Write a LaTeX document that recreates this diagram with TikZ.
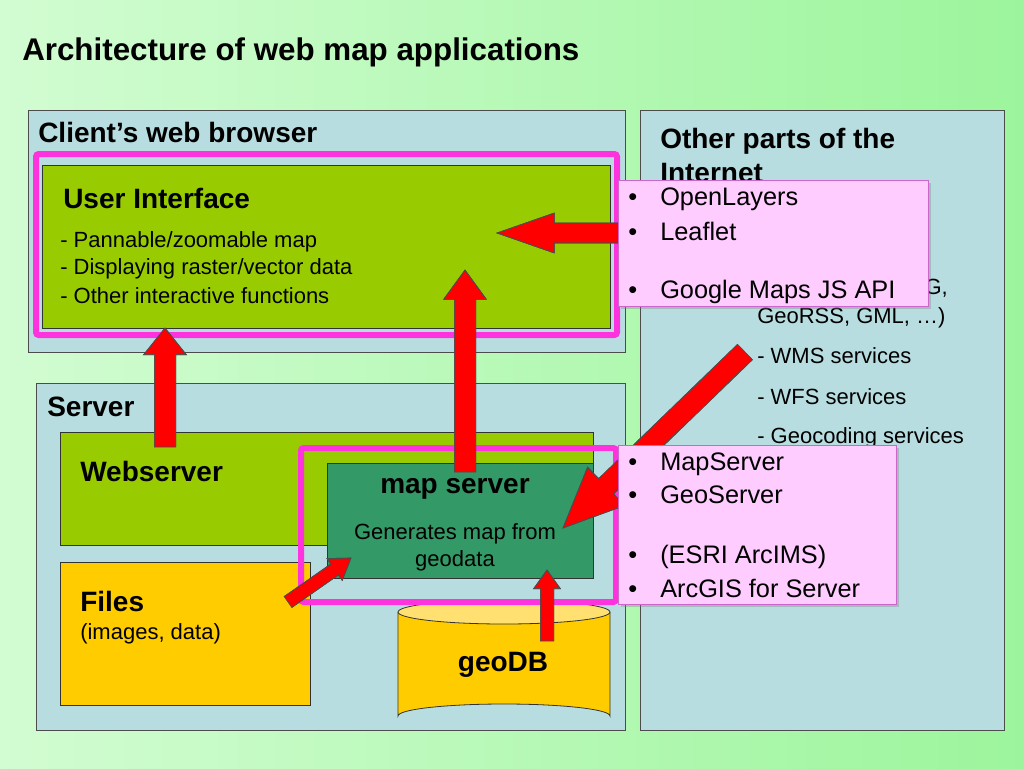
\documentclass[tikz,border=0pt]{standalone}
\usepackage{fontspec}
\setmainfont{Liberation Sans}
\usetikzlibrary{calc,shadows}
\definecolor{bgA}{HTML}{D2FCD2}
\definecolor{bgB}{HTML}{9CF59C}
\definecolor{panel}{HTML}{B8DDE0}
\definecolor{lime}{HTML}{99CC00}
\definecolor{msg}{HTML}{339966}
\definecolor{gold}{HTML}{FFCC00}
\definecolor{goldlt}{HTML}{FFE070}
\definecolor{mag}{HTML}{FF33DD}
\definecolor{pinkf}{HTML}{FFCCFF}
\definecolor{pinkd}{HTML}{CC66CC}
\definecolor{arr}{HTML}{FF0000}
\tikzset{
  panel/.style={draw=black!70,fill=panel,line width=0.6pt},
  box/.style={draw=black!80,line width=0.6pt},
  frame/.style={draw=mag,line width=4.5pt,rounded corners=2pt},
  pink/.style={draw=pinkd,fill=pinkf,line width=1pt,drop shadow={opacity=0.35,shadow xshift=2pt,shadow yshift=-2pt}},
  txt/.style={anchor=west,inner sep=0,font=\fontsize{16.5}{19}\selectfont},
  big/.style={anchor=west,inner sep=0,font=\fontsize{19}{22}\selectfont},
  hd/.style={anchor=west,inner sep=0,font=\bfseries\fontsize{21}{24}\selectfont},
  blk/.style={fill=arr,draw=black!70,line width=0.5pt,line join=miter}
}
\newcommand{\blockarr}[5]{% start, end, half shaft, half head, head length
  \coordinate (bC) at ($(#2)!#5!(#1)$);
  \fill[blk] ($(#1)!#3!90:(#2)$) -- ($(bC)!#3!-90:(#1)$) -- ($(bC)!#4!-90:(#1)$) -- (#2)
    -- ($(bC)!#4!90:(#1)$) -- ($(bC)!#3!90:(#1)$) -- ($(#1)!#3!-90:(#2)$) -- cycle;
  \draw[blk,fill=none] ($(#1)!#3!90:(#2)$) -- ($(bC)!#3!-90:(#1)$) -- ($(bC)!#4!-90:(#1)$) -- (#2)
    -- ($(bC)!#4!90:(#1)$) -- ($(bC)!#3!90:(#1)$) -- ($(#1)!#3!-90:(#2)$);
}
\begin{document}
\begin{tikzpicture}[x=0.75pt,y=-0.75pt]
\useasboundingbox (0,0) rectangle (1024,768);
\shade[left color=bgA,right color=bgB] (0,0) rectangle (1024,768);
\node[anchor=west,inner sep=0,font=\bfseries\fontsize{23.5}{27}\selectfont] (title) at (22,52) {Architecture of web map applications};

% client panel
\draw[panel] (28,110) rectangle (625,352);
\node[hd] (client) at (38,132) {Client’s web browser};
\draw[box,fill=lime] (42,165) rectangle (610,328);
\node[hd] (ui) at (63,198) {User Interface};
\node[txt] (ui1) at (60,242) {- Pannable/zoomable map};
\node[txt] (ui2) at (60,269) {- Displaying raster/vector data};
\node[txt] (ui3) at (60,296) {- Other interactive functions};
\draw[frame] (36,154) rectangle (617,335);

% other parts panel
\draw[panel] (640,110) rectangle (1004,730);
\node[hd] (other1) at (660,141) {Other parts of the};
\node[hd] (other2) at (660,173) {Internet};
\node[txt] (h0) at (895,288) {SVG,};
\node[txt] (h1) at (757,318) {GeoRSS, GML, …)};
\node[txt] (h2) at (757,356) {- WMS services};
\node[txt] (h3) at (757,397) {- WFS services};
\node[txt] (h4) at (757,438) {- Geocoding services};

% server panel
\draw[panel] (36,383) rectangle (625,730);
\node[hd] (server) at (47,407) {Server};
\draw[box,fill=lime] (60,432) rectangle (593,545);
\node[hd] (web) at (80,471) {Webserver};
\draw[box,fill=msg] (327,463) rectangle (593,578);
\node[anchor=center,inner sep=0,font=\bfseries\fontsize{21}{24}\selectfont] (ms) at (455,489) {map server};
\node[anchor=center,inner sep=0,font=\fontsize{16.5}{19}\selectfont,align=center] (msd) at (455,547) {Generates map from\\[1pt]geodata};
\draw[box,fill=gold] (60,562) rectangle (310,705);
\node[hd] (files) at (80,601) {Files};
\node[txt] (files2) at (80,634) {(images, data)};
% cylinder
\draw[box,fill=gold] (398,612) -- (398,716) arc[start angle=180,end angle=360,x radius=106,y radius=12] -- (610,612);
\draw[box,fill=goldlt] (504,612) ellipse[x radius=106,y radius=12];
\node[anchor=center,inner sep=0,font=\bfseries\fontsize{21}{24}\selectfont] (geodb) at (503,665) {geoDB};

\draw[frame] (301,448) rectangle (616,602);

% arrows
\coordinate (a1s) at (620,233); \coordinate (a1e) at (497,233);
\coordinate (a2s) at (465,472); \coordinate (a2e) at (465,270);
\coordinate (a3s) at (165,447); \coordinate (a3e) at (165,328);
\coordinate (a4s) at (745,352); \coordinate (a4e) at (563,528);
\coordinate (a5s) at (288,602); \coordinate (a5e) at (351,558);
\coordinate (a6s) at (547,641); \coordinate (a6e) at (547,570);
\blockarr{a1s}{a1e}{7.5pt}{15pt}{43pt}
\blockarr{a2s}{a2e}{8pt}{16pt}{22pt}
\blockarr{a3s}{a3e}{8pt}{16pt}{20pt}
\blockarr{a4s}{a4e}{8pt}{20pt}{45pt}
\blockarr{a5s}{a5e}{5pt}{10pt}{15pt}
\blockarr{a6s}{a6e}{5pt}{10pt}{14pt}

% pink boxes
\node[pink,minimum width=232.5pt,minimum height=94.5pt,anchor=north west,inner sep=0] (p1) at (618,180) {};
\foreach \t/\y in {OpenLayers/199,Leaflet/231,Google Maps JS API/292}{
  \node[big] at (628,\y) {\makebox[24pt][l]{•}\t};}
\node[pink,minimum width=208.5pt,minimum height=119pt,anchor=north west,inner sep=0] (p2) at (618,445) {};
\foreach \t/\y in {MapServer/464,GeoServer/495,(ESRI ArcIMS)/557,ArcGIS for Server/588}{
  \node[big] at (628,\y) {\makebox[24pt][l]{•}\t};}
\end{tikzpicture}
\end{document}
